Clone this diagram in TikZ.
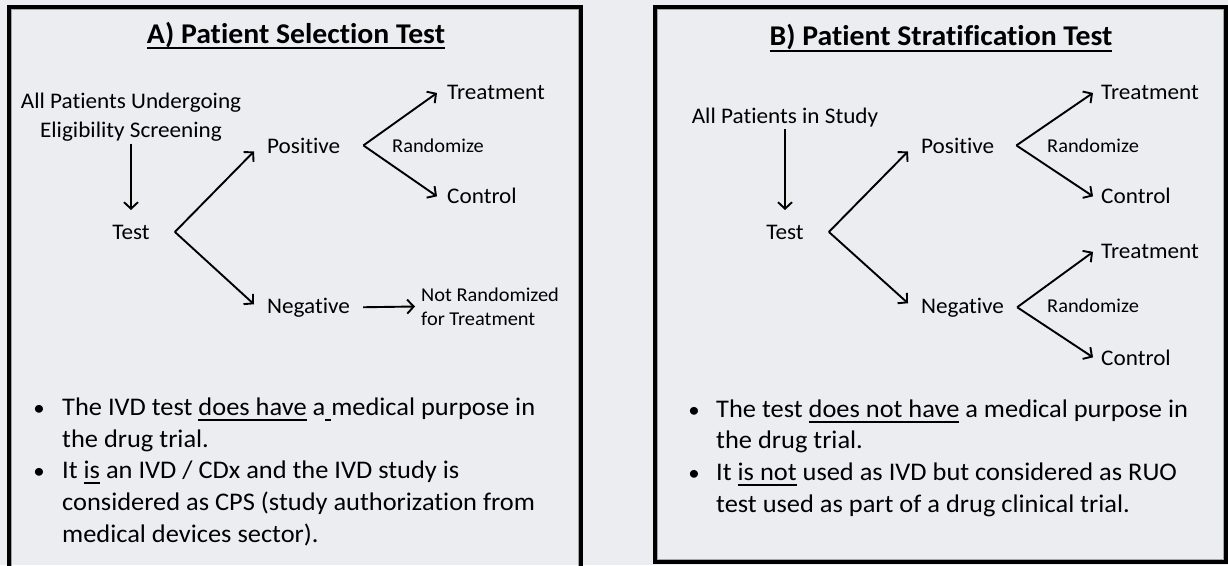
\documentclass[tikz,border=0pt]{standalone}
\usepackage{fontspec}
\setmainfont[FakeStretch=1.04, Ligatures=NoCommon]{Carlito}
\usetikzlibrary{arrows.meta}
\definecolor{bg}{RGB}{236,237,241}
\definecolor{rim}{RGB}{165,165,165}
% underline for words inside the bullet points
\newcommand\undl[1]{\leavevmode\setbox0=\hbox{#1}\rlap{\vrule width\wd0 height -4.3pt depth 5.8pt}\box0\relax}
% heavier underline for the panel headings
\newcommand\headul[1]{\leavevmode\setbox0=\hbox{#1}\rlap{\vrule width\wd0 height -4pt depth 6pt}\box0\relax}
\begin{document}
\begin{tikzpicture}[x=1pt,y=-1pt,
  lbl/.style={inner sep=0pt, anchor=base west, font=\fontsize{22.3}{27}\selectfont},
  sml/.style={inner sep=0pt, anchor=base west, font=\fontsize{19.6}{24}\selectfont},
  ttl/.style={inner sep=0pt, anchor=base, font=\fontsize{28.6}{34}\selectfont\bfseries},
  bul/.style={inner sep=0pt, anchor=base west, font=\fontsize{25.4}{30}\selectfont},
  dot/.style={inner sep=0pt, anchor=base, font=\fontsize{22}{30}\selectfont},
  arr/.style={line width=1.9pt, -{Straight Barb[length=6.5pt,width=14pt]}},
  frame/.style={line width=4pt, line join=miter},
  rimline/.style={line width=1pt, draw=rim}]
\useasboundingbox (0,0) rectangle (1228,565);
\fill[bg] (0,0) rectangle (1228,565);

\begin{scope}
\clip (0,0) rectangle (1228,565);
% panel frames
\draw[rimline] (11.5,570) -- (11.5,9.5) -- (578.5,9.5) -- (578.5,570);
\draw[frame] (9,570) -- (9,7) -- (581,7) -- (581,570);
\draw[rimline] (657.5,9.5) rectangle (1223.5,559.5);
\draw[frame] (655,7) rectangle (1226,561.5);
\end{scope}

% ---------- A) Patient Selection Test ----------
\node[ttl] (aTitle) at (296,43) {\headul{A) Patient Selection Test}};
\node[lbl, anchor=base] (aAll) at (131,108) {All Patients Undergoing};
\node[lbl, anchor=base] (aElig) at (131,137) {Eligibility Screening};
\node[lbl, anchor=base] (aTest) at (131,239) {Test};
\node[lbl] (aPos) at (267,153) {Positive};
\node[lbl] (aNeg) at (267,313) {Negative};
\node[lbl] (aTreat) at (447,99) {Treatment};
\node[lbl] (aCtrl) at (447,203) {Control};
\node[sml] (aRand) at (392,152) {Randomize};
\node[sml, anchor=west, align=left] (aNot) at (421,306.5) {Not Randomized\\for Treatment};

\coordinate (aFork) at ([xshift=25pt]aTest.east);
\coordinate (aPosV) at ([xshift=23pt]aPos.east);
\draw[arr] ([yshift=-2.5pt]aElig.south) -- ([yshift=14.5pt]aTest.north);
\draw[arr] (aFork) -- ([xshift=-13pt,yshift=-6pt]aPos.west);
\draw[arr] (aFork) -- ([xshift=-13pt,yshift=3pt]aNeg.west);
\draw[arr] (aPosV) -- ([xshift=-10pt,yshift=-1pt]aTreat.west);
\draw[arr] (aPosV) -- ([xshift=-10pt,yshift=-1pt]aCtrl.west);
\draw[arr] ([xshift=13pt]aNeg.east) -- ([xshift=-6pt]aNot.west);

\node[dot] (aB1) at (39,415) {•};
\node[bul] (aL1) at (62,415) {The IVD test \undl{does have} a\undl{\ }medical purpose in};
\node[bul] (aL2) at (62,447) {the drug trial.};
\node[dot] (aB2) at (39,478) {•};
\node[bul] (aL3) at (62,478) {It \undl{is} an IVD / CDx and the IVD study is};
\node[bul] (aL4) at (62,510) {considered as CPS (study authorization from};
\node[bul] (aL5) at (62,542) {medical devices sector).};

% ---------- B) Patient Stratification Test ----------
\node[ttl] (bTitle) at (941,45.5) {\headul{B) Patient Stratification Test}};
\node[lbl, anchor=base] (bAll) at (785,123) {All Patients in Study};
\node[lbl, anchor=base] (bTest) at (785,239) {Test};
\node[lbl] (bPos) at (921,153) {Positive};
\node[lbl] (bNeg) at (921,313) {Negative};
\node[lbl] (bTreatP) at (1101,99) {Treatment};
\node[lbl] (bCtrlP) at (1101,203) {Control};
\node[lbl] (bTreatN) at (1101,258) {Treatment};
\node[lbl] (bCtrlN) at (1101,365) {Control};
\node[sml] (bRandP) at (1047,152) {Randomize};
\node[sml] (bRandN) at (1047,312) {Randomize};

\coordinate (bFork) at ([xshift=25pt]bTest.east);
\coordinate (bPosV) at ([xshift=22pt]bPos.east);
\coordinate (bNegV) at ([xshift=13pt]bNeg.east);
\draw[arr] ([yshift=-2.5pt]bAll.south) -- ([yshift=14.5pt]bTest.north);
\draw[arr] (bFork) -- ([xshift=-13pt,yshift=-6pt]bPos.west);
\draw[arr] (bFork) -- ([xshift=-13pt,yshift=4pt]bNeg.west);
\draw[arr] (bPosV) -- ([xshift=-8pt,yshift=-1pt]bTreatP.west);
\draw[arr] (bPosV) -- ([xshift=-8pt,yshift=-1pt]bCtrlP.west);
\draw[arr] (bNegV) -- ([xshift=-8pt,yshift=-1pt]bTreatN.west);
\draw[arr] (bNegV) -- ([xshift=-8pt]bCtrlN.west);

\node[dot] (bB1) at (694,417) {•};
\node[bul] (bL1) at (716,417) {The test \undl{does not have} a medical purpose in};
\node[bul] (bL2) at (716,448) {the drug trial.};
\node[dot] (bB2) at (694,480) {•};
\node[bul] (bL3) at (716,480) {It \undl{is not} used as IVD but considered as RUO};
\node[bul] (bL4) at (716,512) {test used as part of a drug clinical trial.};
\end{tikzpicture}
\end{document}
